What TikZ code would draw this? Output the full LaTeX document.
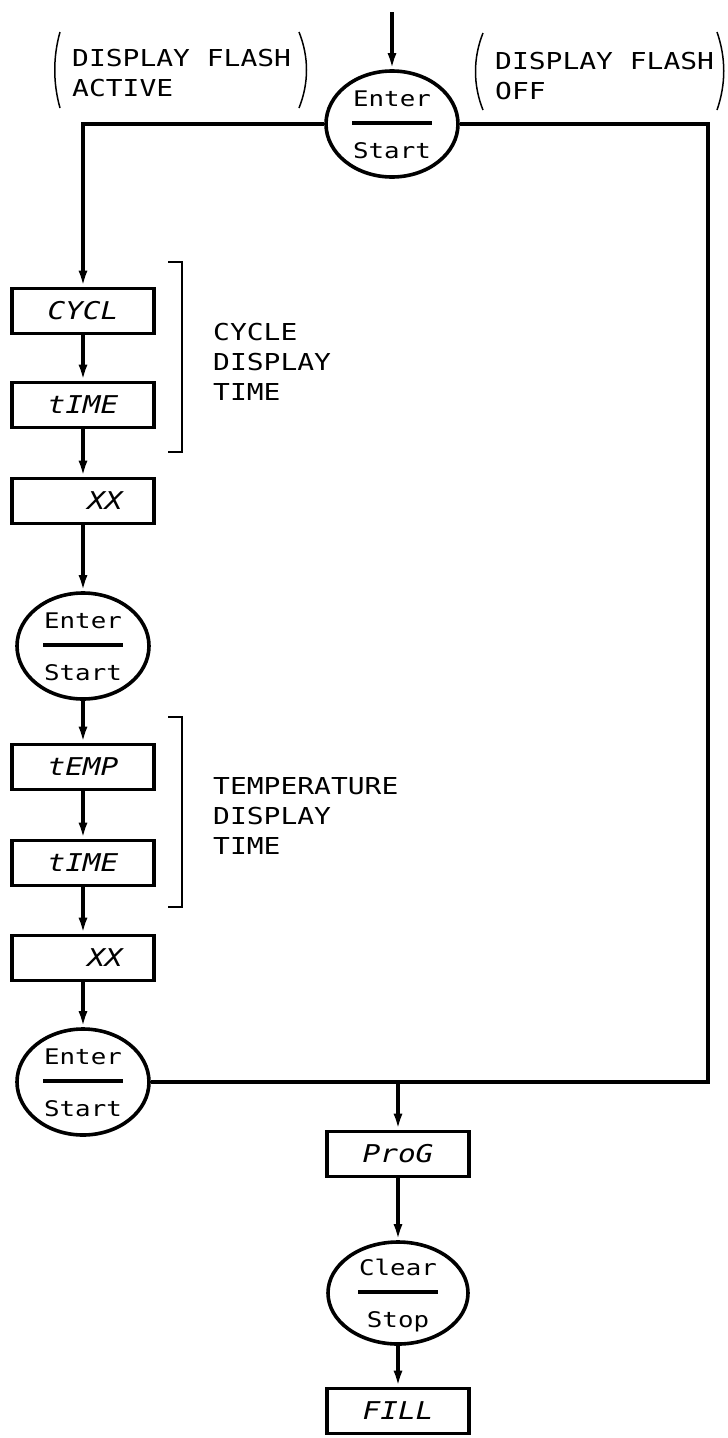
\documentclass[tikz,border=0pt]{standalone}
\usepackage{fontspec}
\newfontfamily\plotfont[FakeStretch=1.2]{DejaVu Sans Mono}
\usetikzlibrary{shapes.geometric,arrows.meta,calc}
\newcommand\keytexts[3]{%
  \node[keytxt] at ($(#1)+(0,-17.5)$) {#2};
  \draw[keybar] ($(#1)+(-40,-1)$) -- ($(#1)+(40,-1)$);
  \node[keytxt] at ($(#1)+(0,34)$) {#3};
}
\begin{document}
\begin{tikzpicture}[x=1pt,y=-1pt,
  line/.style={line width=3.6pt},
  arr/.style={line width=3.6pt, -{Latex[length=16pt,width=9pt]}},
  dbox/.style={draw, line width=3.6pt, rectangle, minimum width=142pt, minimum height=45pt, inner sep=0pt,
    font=\plotfont\itshape\fontsize{24.5pt}{28pt}\selectfont},
  key/.style={draw, line width=3.6pt, ellipse, minimum width=132pt, minimum height=106pt, inner sep=0pt},
  keytxt/.style={anchor=base, inner sep=0pt, font=\plotfont\fontsize{21.5pt}{24pt}\selectfont},
  keybar/.style={line width=4.5pt},
  lbl/.style={anchor=west, align=left, inner sep=0pt, font=\plotfont\fontsize{23.3pt}{30pt}\selectfont},
  thinline/.style={line width=1.5pt}
]
\useasboundingbox (0,0) rectangle (728,1438);

% nodes
\node[key] (e1) at (392,124) {};
\node[dbox] (cycl) at (83,311) {CYCL};
\node[dbox] (time1) at (83,405) {tIME};
\node[dbox] (xx1) at (83,501) {\hspace*{44pt}XX};
\node[key] (e2) at (83,646) {};
\node[dbox] (temp) at (83,767) {tEMP};
\node[dbox] (time2) at (83,863) {tIME};
\node[dbox] (xx2) at (83,958) {\hspace*{44pt}XX};
\node[key] (e3) at (83,1082) {};
\node[dbox] (prog) at (398,1154) {ProG};
\node[key, minimum width=140pt, minimum height=102pt] (cs) at (398,1293) {};
\node[dbox] (fill) at (398,1411) {FILL};

\keytexts{e1}{Enter}{Start}
\keytexts{e2}{Enter}{Start}
\keytexts{e3}{Enter}{Start}
\keytexts{cs}{Clear}{Stop}

% coordinates
\coordinate (in) at (392,12);
\coordinate (lt) at (83,124);
\coordinate (rt) at (708,124);
\coordinate (rb) at (708,1082);
\coordinate (j) at (398,1082);

% connectors
\draw[arr] (in) -- (e1);
\draw[arr] (e1.west) -- (lt) -- (cycl);
\draw[line] (e1.east) -- (rt) -- (rb) -- (e3.east);
\draw[arr] (cycl) -- (time1);
\draw[arr] (time1) -- (xx1);
\draw[arr] (xx1) -- (e2);
\draw[arr] (e2) -- (temp);
\draw[arr] (temp) -- (time2);
\draw[arr] (time2) -- (xx2);
\draw[arr] (xx2) -- (e3);
\draw[arr] (j) -- (prog);
\draw[arr] (prog) -- (cs);
\draw[arr] (cs) -- (fill);

% labels
\node[lbl] (cyc) at (213,362) {CYCLE\\DISPLAY\\TIME};
\node[lbl] (tmp) at (213,816) {TEMPERATURE\\DISPLAY\\TIME};
\node[lbl] (fa) at (72,73.5) {DISPLAY FLASH\\ACTIVE};
\node[lbl] (fo) at (495,76) {DISPLAY FLASH\\OFF};

% brackets
\draw[thinline] (168,262) -- (182,262) -- (182,452) -- (168,452);
\draw[thinline] (168,717) -- (182,717) -- (182,907) -- (168,907);

% parentheses
\draw[thinline] (60,32) .. controls (53,57) and (53,83) .. (60,108);
\draw[thinline] (299,32) .. controls (309,57) and (309,83) .. (299,108);
\draw[thinline] (483,33) .. controls (473,58) and (473,85) .. (483,110);
\draw[thinline] (717,32) .. controls (726,58) and (726,84) .. (717,110);
\end{tikzpicture}
\end{document}
